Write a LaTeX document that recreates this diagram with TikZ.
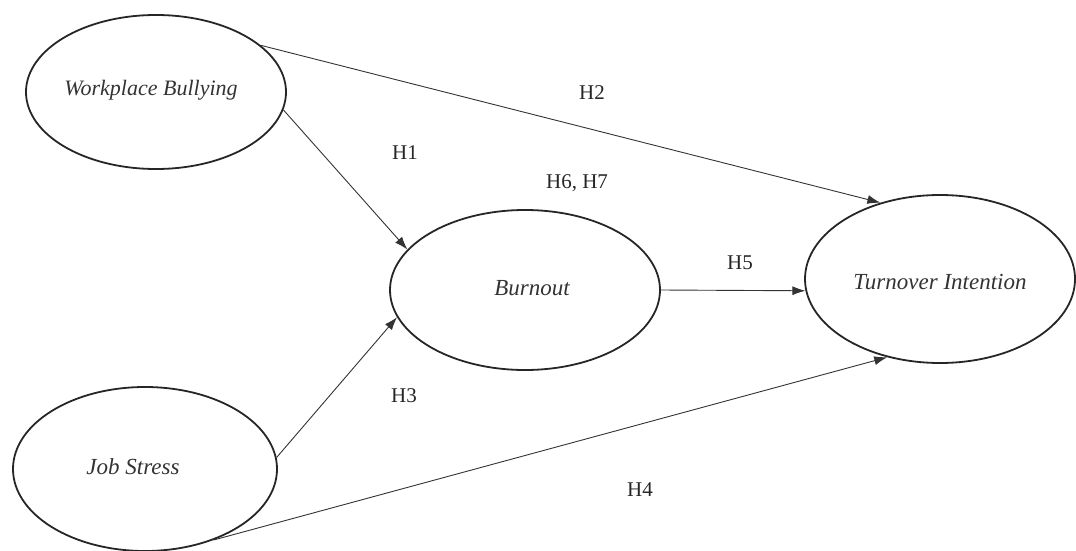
\documentclass[tikz,border=0pt]{standalone}
\usepackage{fontspec}
\setmainfont{Liberation Serif}
\usetikzlibrary{shapes.geometric,arrows.meta}
\begin{document}
\begin{tikzpicture}[x=1pt,y=-1pt,
  construct/.style={draw=black!85, line width=1.8pt, ellipse, inner sep=0pt,
    font=\fontsize{23}{27}\selectfont\itshape, text=black!80},
  path/.style={draw=black!80, line width=0.9pt, -{Latex[length=13pt,width=9pt]}},
  hyp/.style={font=\fontsize{21}{25}\selectfont, text=black!85}]
\useasboundingbox (0,0) rectangle (1076,551);
\node[construct, minimum width=260pt, minimum height=154pt] (wb) at (156,92) {};
\node[font=\fontsize{22}{26}\selectfont\itshape, text=black!80] (wbt) at (151,90) {Workplace Bullying};
\node[construct, minimum width=264pt, minimum height=164pt] (js) at (145,469) {};
\node[font=\fontsize{23}{27}\selectfont\itshape, text=black!80] (jst) at (133,467) {Job Stress};
\node[construct, minimum width=270pt, minimum height=160pt] (bo) at (525,290) {};
\node[font=\fontsize{23}{27}\selectfont\itshape, text=black!80] (bot) at (532,288) {Burnout};
\node[construct, minimum width=270pt, minimum height=168pt] (ti) at (940,279) {};
\node[font=\fontsize{23}{27}\selectfont\itshape, text=black!80] (tit) at (940,282) {Turnover Intention};
\draw[path] (wb.24) -- (ti.128);
\draw[path] (wb.-8) -- (bo.161);
\draw[path] (js.5) -- (bo.192);
\draw[path] (js.-46) -- (ti.236);
\draw[path] (bo.0) -- (ti.185);
\node[hyp] (h1) at (405,153) {H1};
\node[hyp] (h2) at (592,93) {H2};
\node[hyp] (h3) at (404,396) {H3};
\node[hyp] (h4) at (640,490) {H4};
\node[hyp] (h5) at (740,263) {H5};
\node[hyp] (h67) at (577,183) {H6, H7};
\end{tikzpicture}
\end{document}
